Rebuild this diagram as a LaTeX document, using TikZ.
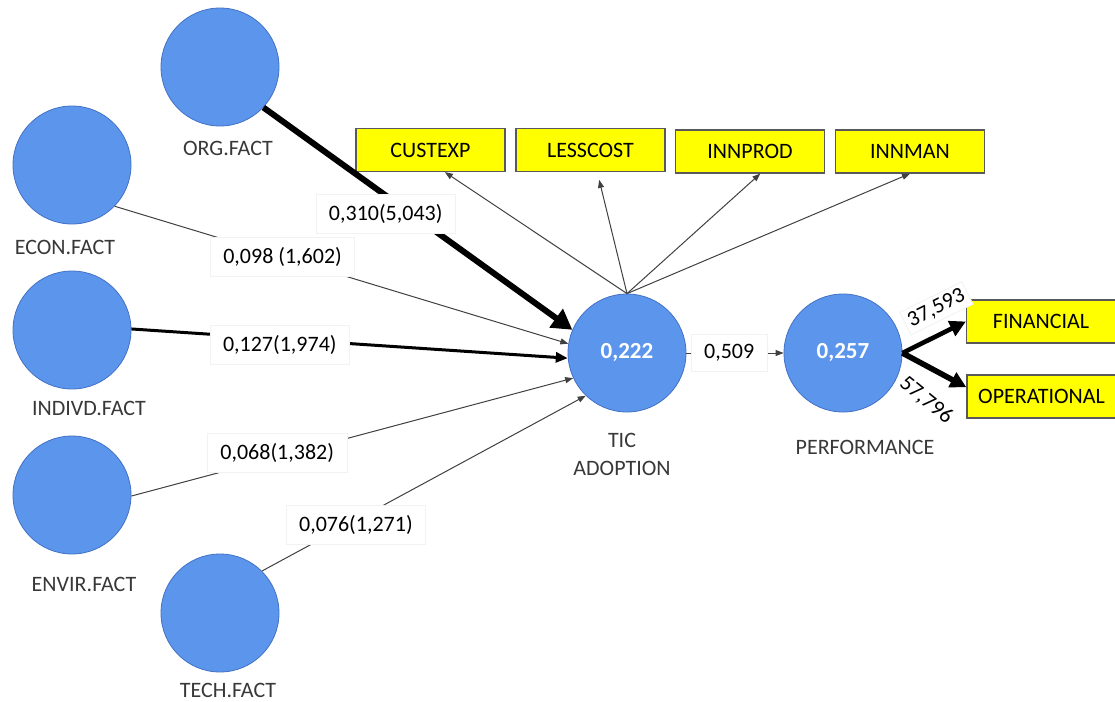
\documentclass[tikz,border=0pt]{standalone}
\usepackage{fontspec}
\setmainfont{Carlito}
\usetikzlibrary{arrows.meta}

\definecolor{lvblue}{RGB}{92,150,236}
\definecolor{lvline}{RGB}{66,112,196}
\definecolor{indyellow}{RGB}{255,255,0}

\begin{document}
\begin{tikzpicture}[x=0.5pt, y=-0.5pt, font=\fontsize{11}{14}\selectfont]
      \tikzstyle{latent} = [circle, fill=lvblue, draw=lvline, line width=0.4pt, minimum size=59pt, inner sep=0pt, text=white, font=\fontsize{11.5}{14}\selectfont\bfseries]
      \tikzstyle{indic} = [rectangle, fill=indyellow, draw=black!65, line width=0.6pt, minimum width=74.5pt, minimum height=21.5pt, inner sep=0pt]
      \tikzstyle{lvname} = [text=black!78, align=center]
      \tikzstyle{coef} = [fill=white, draw=black!5, line width=0.4pt, inner xsep=6.5pt, inner ysep=5pt]
      \tikzstyle{strongpath} = [draw=black, line width=3pt, -{Triangle[length=10pt,width=11pt]}]
      \tikzstyle{midpath} = [draw=black, line width=1.5pt, -{Triangle[length=6pt,width=5pt]}]
      \tikzstyle{weakpath} = [draw=black!75, line width=0.5pt, -{Triangle[length=4pt,width=3pt]}]
      \tikzstyle{loadpath} = [draw=black, line width=2.3pt, -{Triangle[length=8pt,width=8pt]}]

      \useasboundingbox (0,0) rectangle (1115,702);

      % constructs
      \node[latent](org) at (220,67){};
      \node[latent](econ) at (72,165){};
      \node[latent](indivd) at (72,330){};
      \node[latent](envir) at (72,495){};
      \node[latent](tech) at (220,613){};
      \node[latent](tic) at (627,353){0,222};
      \node[latent](perf) at (843,353){0,257};

      \node[lvname](orgname) at (228,148){ORG.FACT};
      \node[lvname](econname) at (65,247){ECON.FACT};
      \node[lvname](indivdname) at (89,408){INDIVD.FACT};
      \node[lvname](envirname) at (84,584){ENVIR.FACT};
      \node[lvname](techname) at (228,690){TECH.FACT};
      \node[lvname](ticname) at (622,454){TIC\\ADOPTION};
      \node[lvname](perfname) at (865,447){PERFORMANCE};

      % indicators
      \node[indic](cust) at (430.5,150){CUSTEXP};
      \node[indic](less) at (590.5,150){LESSCOST};
      \node[indic](innprod) at (750,151.5){INNPROD};
      \node[indic](innman) at (910,151.5){INNMAN};
      \node[indic](fin) at (1041,321.5){FINANCIAL};
      \node[indic](oper) at (1041.5,396.5){OPERATIONAL};

      % paths into TIC adoption
      \path (org.317) edge[strongpath] node[coef, pos=0.48, xshift=-13pt]{0,310(5,043)} (tic.157);
      \path (econ.316) edge[weakpath] node[coef, pos=0.37]{0,098 (1,602)} (tic.171);
      \path (indivd.1) edge[midpath] node[coef, pos=0.34, yshift=-3pt]{0,127(1,974)} (tic.185);
      \path (envir.-1) edge[weakpath] node[coef, pos=0.33, yshift=2pt]{0,068(1,382)} (tic.205);
      \path (tech.45) edge[weakpath] node[coef, pos=0.29, yshift=-2.5pt]{0,076(1,271)} (tic.226);

      % TIC adoption to its indicators
      \path (tic.north) edge[weakpath] (cust.303);
      \path (tic.north) edge[weakpath, shorten >=4pt] (less.287);
      \path (tic.north) edge[weakpath] (innprod.295);
      \path (tic.north) edge[weakpath] (innman.south);

      \path (tic.east) edge[weakpath] node[coef, pos=0.44]{0,509} (perf.west);

      % performance indicators
      \path (perf.east) edge[loadpath] node[coef, inner sep=2pt, sloped, above=6pt, pos=0.71]{37,593} (fin.west);
      \path (perf.east) edge[loadpath, line width=2.8pt] node[coef, draw=none, inner sep=1pt, sloped, rotate=-11, below=10pt, pos=0.68]{57,796} (oper.173);
\end{tikzpicture}
\end{document}
